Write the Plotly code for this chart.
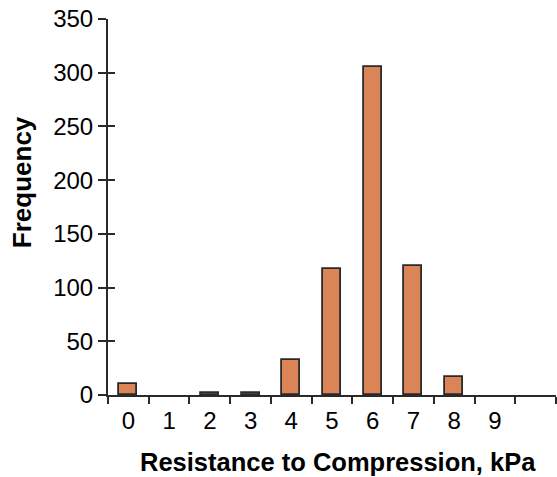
import plotly.graph_objects as go

categories = ["0", "1", "2", "3", "4", "5", "6", "7", "8", "9", " "]
frequency = [10, 0, 2, 2, 33, 117, 305, 120, 17, 0, None]
y_ticks = [0, 50, 100, 150, 200, 250, 300, 350]

bar_color = "#DB8458"
line_color = "#2a2a2a"
font_family = "Liberation Sans, Arial, sans-serif"

outline_widths = [0 if (v is None or v == 0) else 1.8 for v in frequency]

fig = go.Figure()
fig.add_trace(go.Bar(
    x=categories, y=frequency, width=0.44,
    marker=dict(color=bar_color, line=dict(color=line_color, width=outline_widths)),
    showlegend=False, hoverinfo="skip",
))
# invisible trace to carry the inside-tick overlay axis
fig.add_trace(go.Scatter(x=categories, y=frequency, yaxis="y2", mode="markers",
                         marker=dict(opacity=0), showlegend=False, hoverinfo="skip"))

fig.update_layout(
    width=557, height=477,
    margin=dict(l=108, r=1, t=19, b=82),
    paper_bgcolor="white", plot_bgcolor="white",
    font=dict(family=font_family, size=24, color="black"),
    xaxis=dict(
        type="category", categoryorder="array", categoryarray=categories,
        range=[-0.5, 10.5], tickson="boundaries", automargin=False,
        ticks="outside", ticklen=7, tickwidth=2, tickcolor=line_color,
        showline=True, linecolor=line_color, linewidth=2,
        showgrid=False, zeroline=False, ticklabelstandoff=3,
        tickfont=dict(size=24), ticklabeloverflow="allow",
    ),
    yaxis=dict(
        range=[0, 350], tickvals=y_ticks, automargin=False,
        ticks="outside", ticklen=8, tickwidth=2, tickcolor=line_color,
        showline=True, linecolor=line_color, linewidth=2,
        showgrid=False, zeroline=False,
        tickfont=dict(size=24), ticklabeloverflow="allow",
    ),
    yaxis2=dict(
        overlaying="y", side="left", range=[0, 350], tickvals=y_ticks,
        ticks="inside", ticklen=7, tickwidth=2, tickcolor=line_color,
        showticklabels=False, showline=False, showgrid=False, zeroline=False,
    ),
    bargap=0,
    annotations=[
        dict(text="<b>Resistance to Compression, kPa</b>", xref="paper", yref="paper",
             x=0.513, y=-0.178, xanchor="center", yanchor="middle", showarrow=False,
             font=dict(size=25.5), borderpad=0),
        dict(text="<b>Frequency</b>", xref="paper", yref="paper", textangle=-90,
             x=-0.192, y=0.566, xanchor="center", yanchor="middle", showarrow=False,
             font=dict(size=26)),
    ],
)

fig.write_html(
    "out.html",
    config={"displayModeBar": False},
    post_script="document.body.style.margin='0';document.body.style.overflow='hidden';",
)
